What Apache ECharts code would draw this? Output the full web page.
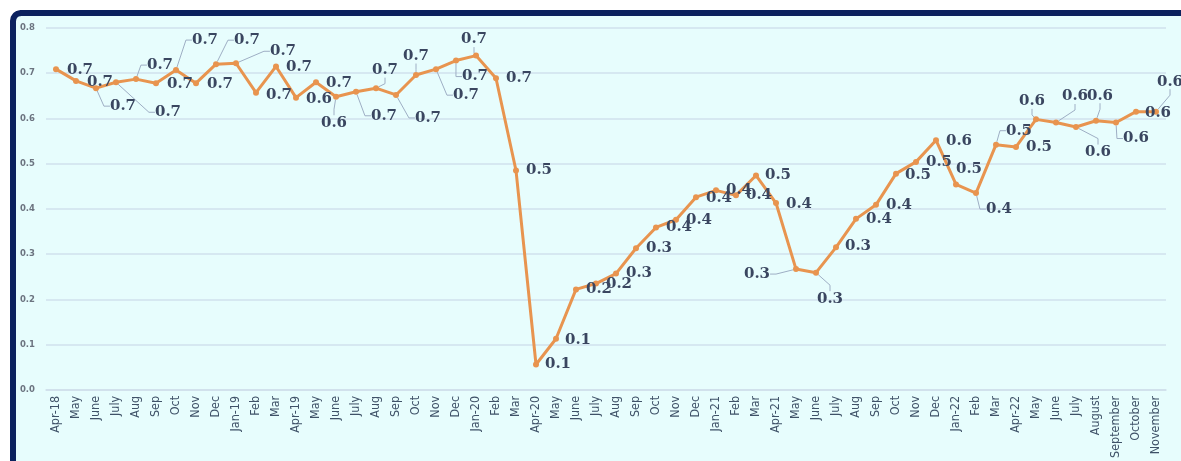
<!DOCTYPE html>
<html>
<head>
<meta charset="utf-8">
<title>Monthly index, Apr-18 to Nov-22</title>
<script src="https://cdn.jsdelivr.net/npm/echarts@6/dist/echarts.min.js"></script>
<style>
  html, body { margin: 0; padding: 0; background: #ffffff; overflow: hidden; }
  #chart { position: absolute; left: 0; top: 0; width: 1181px; height: 461px; }
</style>
</head>
<body>
<div id="chart"></div>
<script>
// Month labels along the x axis
const months = [
  'Apr-18','May','June','July','Aug','Sep','Oct','Nov','Dec',
  'Jan-19','Feb','Mar','Apr-19','May','June','July','Aug','Sep','Oct','Nov','Dec',
  'Jan-20','Feb','Mar','Apr-20','May','June','July','Aug','Sep','Oct','Nov','Dec',
  'Jan-21','Feb','Mar','Apr-21','May','June','July','Aug','Sep','Oct','Nov','Dec',
  'Jan-22','Feb','Mar','Apr-22','May','June','July','August','September','October','November'
];

// Monthly values
const values = [
  0.709, 0.683, 0.667, 0.680, 0.687, 0.678, 0.707, 0.678, 0.720,
  0.722, 0.657, 0.715, 0.646, 0.680, 0.648, 0.659, 0.667, 0.652, 0.696, 0.709, 0.728,
  0.739, 0.689, 0.485, 0.056, 0.113, 0.222, 0.235, 0.257, 0.313, 0.359, 0.376, 0.426,
  0.441, 0.430, 0.474, 0.413, 0.267, 0.259, 0.315, 0.378, 0.409, 0.478, 0.504, 0.552,
  0.454, 0.435, 0.542, 0.537, 0.598, 0.591, 0.581, 0.595, 0.591, 0.615, 0.615
];

// Value-axis ticks
const yTicks = [0, 0.1, 0.2, 0.3, 0.4, 0.5, 0.6, 0.7, 0.8];

// Label shift (px) from each point, so crowded labels do not collide
const labelShift = [
  [24,1],[24,1],[27,18],[52,30],[24,-14],[24,1],[29,-30],[24,1],[31,-24],
  [47,-12],[23,2],[23,1],[23,1],[23,1],[-2,26],[28,24],[9,-18],[32,23],[0,-19],[30,26],[19,16],
  [-2,-16],[23,0],[23,0],[22,0],[22,1],[23,0],[23,1],[23,0],[23,0],[23,0],[23,0],[23,1],
  [23,0],[23,0],[22,0],[23,1],[-39,5],[14,26],[22,-1],[23,0],[23,0],[22,1],[23,0],[23,1],
  [13,-15],[23,16],[23,-14],[23,0],[-4,-18],[19,-26],[22,25],[4,-25],[20,16],[22,1],[14,-30]
];

// Labels pushed far enough away to get a leader line
const leaderIdx = [2,3,4,6,8,9,14,15,16,17,18,19,20,21,37,38,46,47,49,50,51,52,53,55];

const seriesData = values.map((v, i) => ({
  value: v,
  labelLine: { show: leaderIdx.indexOf(i) >= 0 }
}));

const chart = echarts.init(document.getElementById('chart'), null, { renderer: 'canvas' });

chart.setOption({
  backgroundColor: '#ffffff',
  animation: false,
  graphic: [
    // Pale panel fill
    {
      type: 'rect', silent: true, z: -10,
      shape: { x: 13, y: 13, width: 1300, height: 600, r: [8, 0, 0, 0] },
      style: { fill: '#e7fdfd' }
    },
    // Navy frame: top and left edges with a rounded corner
    {
      type: 'polyline', silent: true, z: -9,
      shape: { points: [[13, 600], [13, 21], [13.6, 17.9], [15.3, 15.3], [17.9, 13.6], [21, 13], [1300, 13]] },
      style: { fill: null, stroke: '#0b215e', lineWidth: 6, lineJoin: 'round' }
    }
  ],
  grid: { left: 46, right: 15, top: 28, bottom: 65, containLabel: false },
  xAxis: {
    type: 'category',
    data: months,
    boundaryGap: true,
    axisLine: { show: true, lineStyle: { color: '#cfdeea', width: 1.5 } },
    axisTick: { show: false },
    axisLabel: {
      interval: 0, rotate: 90, margin: 6,
      fontFamily: "'Liberation Sans Narrow', 'DejaVu Sans Condensed', sans-serif",
      fontSize: 12.5, color: '#3f5268'
    },
    splitLine: { show: false }
  },
  yAxis: {
    type: 'value',
    min: yTicks[0], max: yTicks[yTicks.length - 1], interval: 0.1,
    axisLine: { show: false },
    axisTick: { show: false },
    axisLabel: {
      margin: 11, formatter: v => v.toFixed(1),
      fontFamily: "'DejaVu Sans', sans-serif", fontWeight: 'bold',
      fontSize: 8.5, color: '#6c7480'
    },
    splitLine: { lineStyle: { color: '#d0e0ec', width: 1.5 } }
  },
  series: [{
    type: 'line',
    data: seriesData,
    symbol: 'circle',
    symbolSize: 6,
    itemStyle: { color: '#e8944f' },
    lineStyle: { color: '#e8944f', width: 3 },
    label: {
      show: true,
      position: 'inside',
      formatter: p => p.value.toFixed(1),
      fontFamily: "'DejaVu Serif', 'Liberation Serif', serif",
      fontWeight: 'bold',
      fontSize: 15,
      color: '#3a4660'
    },
    labelLine: {
      show: false,
      length2: 6,
      lineStyle: { color: '#9eaec4', width: 1 }
    },
    labelLayout: p => ({ dx: labelShift[p.dataIndex][0], dy: labelShift[p.dataIndex][1] })
  }]
});
</script>
</body>
</html>
